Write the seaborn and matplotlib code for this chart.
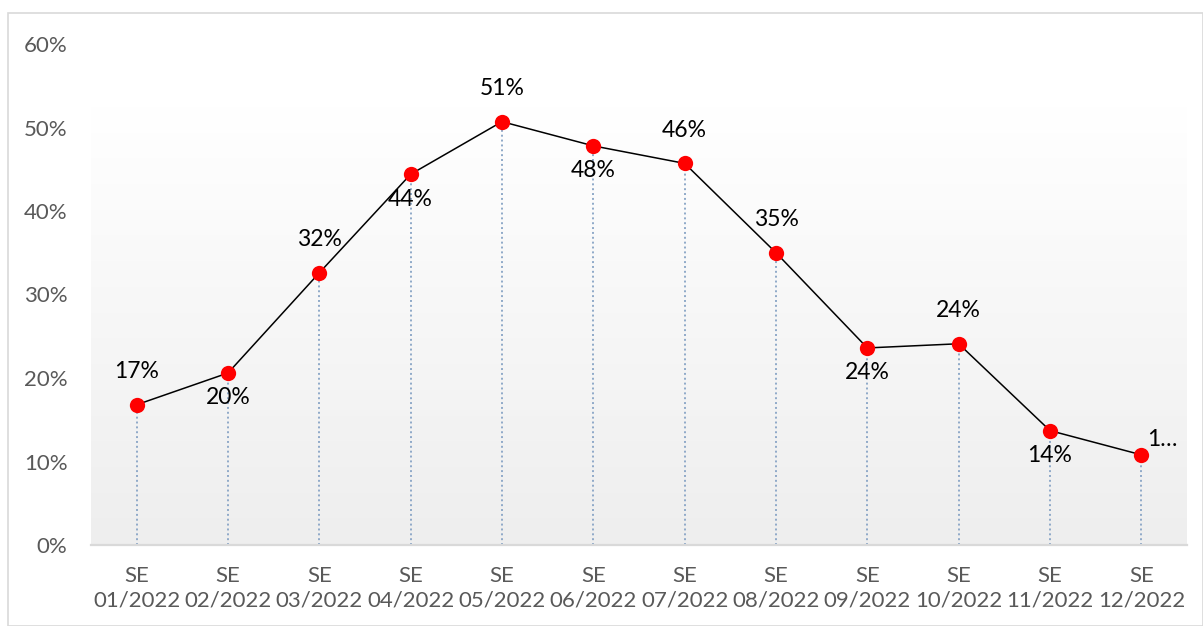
import numpy as np
import pandas as pd
import matplotlib.pyplot as plt
import seaborn as sns
from matplotlib.patches import Rectangle

weeks = ["SE\n01/2022", "SE\n02/2022", "SE\n03/2022", "SE\n04/2022", "SE\n05/2022", "SE\n06/2022",
         "SE\n07/2022", "SE\n08/2022", "SE\n09/2022", "SE\n10/2022", "SE\n11/2022", "SE\n12/2022"]
values = [0.168, 0.206, 0.326, 0.444, 0.507, 0.478, 0.457, 0.350, 0.236, 0.241, 0.137, 0.108]
labels = ["17%", "20%", "32%", "44%", "51%", "48%", "46%", "35%", "24%", "24%", "14%", "1…"]
label_pos = ["above", "below", "above", "below", "above", "below", "above", "above", "below", "above", "below", "right"]

df = pd.DataFrame({"week": weeks, "value": values})

sns.set_style("white")
plt.rcParams["font.family"] = ["Lato", "DejaVu Sans"]

fig = plt.figure(figsize=(12.03, 6.26), dpi=100)
ax = fig.add_axes([91 / 1203, 1 - 545 / 626, 1096 / 1203, 501 / 626])

# gradient background of the plot area
grad = np.linspace(0, 1, 256).reshape(-1, 1)
ax.imshow(grad, cmap=sns.blend_palette(["#eeeeee", "#ffffff"], as_cmap=True),
          extent=(-0.5, 11.5, 0, 0.525), origin="lower", aspect="auto", zorder=0)

x = np.arange(len(weeks))
ax.vlines(x, 0, values, colors="#8fa9c8", linestyles=(0, (1, 1.5)), linewidth=1.4, zorder=1)

sns.lineplot(data=df, x="week", y="value", ax=ax, color="black", linewidth=1.1,
             marker="o", markersize=11, markerfacecolor="#ff0000", markeredgewidth=0,
             sort=False, zorder=3)

offsets = {"above": (0, 33, "center", "center"), "below": (0, -25, "center", "center"),
           "right": (6, 15, "left", "center")}
for xi, v, lab, pos in zip(x, values, labels, label_pos):
    dx, dy, ha, va = offsets[pos]
    ax.annotate(lab, (xi, v), xytext=(dx, dy), textcoords="offset pixels",
                ha=ha, va=va, fontsize=16.5, color="black", zorder=4)

ax.set_xlim(-0.5, 11.5)
ax.set_ylim(0, 0.6)
ax.set_yticks(np.arange(0, 0.61, 0.1))
ax.set_yticklabels([f"{int(round(t * 100))}%" for t in np.arange(0, 0.61, 0.1)])
ax.set_xlabel("")
ax.set_ylabel("")
ax.tick_params(axis="both", length=0, labelsize=16, colors="#595959")
ax.tick_params(axis="x", pad=15)
ax.tick_params(axis="y", pad=17)
for lbl in ax.get_xticklabels():
    lbl.set_linespacing(1.3)

for side in ["top", "right", "left"]:
    ax.spines[side].set_visible(False)
ax.spines["bottom"].set_color("#d9d9d9")
ax.spines["bottom"].set_linewidth(1.6)
ax.patch.set_alpha(0)

# chart border
fig.patches.append(Rectangle((8 / 1203, 0), 1 - 8 / 1203, 1 - 13 / 626, transform=fig.transFigure,
                             fill=False, edgecolor="#d9d9d9", linewidth=1.2))

fig.savefig("out.png", dpi=100)
